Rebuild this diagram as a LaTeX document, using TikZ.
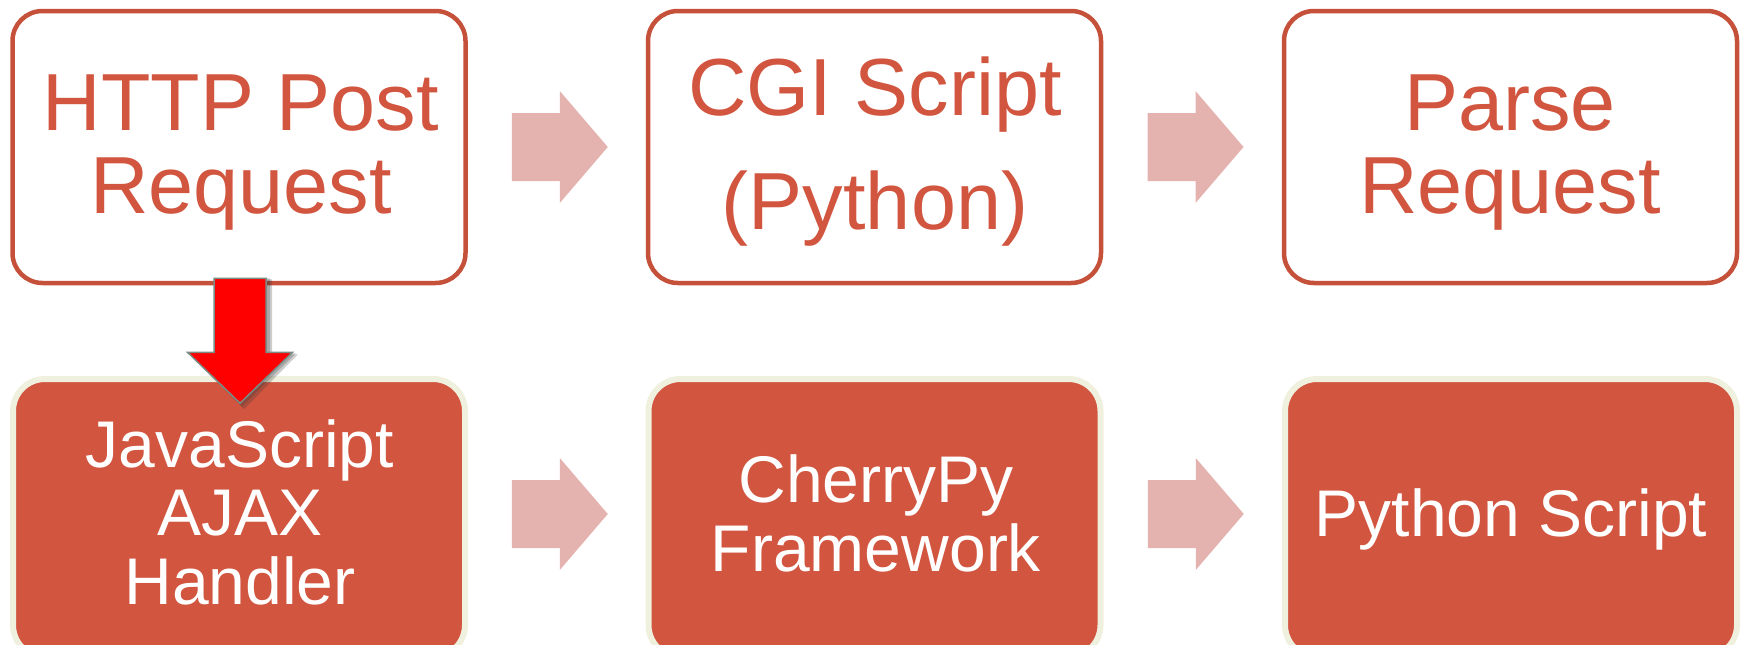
\documentclass[tikz,border=0pt]{standalone}
\usepackage{fontspec}
\setmainfont{Liberation Sans}
\usetikzlibrary{calc}
\definecolor{boxline}{RGB}{197,81,59}
\definecolor{boxtext}{RGB}{209,85,63}
\definecolor{boxfill}{RGB}{209,85,63}
\definecolor{cream}{RGB}{240,240,222}
\definecolor{pinkarrow}{RGB}{228,179,175}
\definecolor{arrowedge}{RGB}{122,140,132}
\newcommand\fatarrow[1]{\fill[flowarrow,shift={(#1)}] (-48,-34) -- (0,-34) -- (0,-56) -- (48,0) -- (0,56) -- (0,34) -- (-48,34) -- cycle;}
\begin{document}
\begin{tikzpicture}[x=1pt,y=-1pt,
 topbox/.style={draw=boxline, line width=4.5pt, rounded corners=30pt, minimum width=453pt, minimum height=272pt, inner sep=0pt, fill=white},
 botbox/.style={draw=cream, fill=boxfill, line width=6pt, rounded corners=32pt, minimum width=452pt, minimum height=278pt, inner sep=0pt},
 toptext/.style={anchor=base, align=center, text=boxtext, inner sep=0pt, font=\fontsize{81}{83}\selectfont},
 bottext/.style={anchor=base, align=center, text=white, inner sep=0pt, font=\fontsize{66}{68.5}\selectfont},
 flowarrow/.style={fill=pinkarrow},
 redarrow/.style={fill=red, draw=arrowedge, line width=1.5pt, line join=miter},
 redshadow/.style={fill=black!55!gray, opacity=0.25}
]
\useasboundingbox (0,0) rectangle (1743,645);
\clip (0,0) rectangle (1743,645);
% top row
\node[topbox] (t1) at (239,147) {};
\node[topbox] (t2) at (874.5,147) {};
\node[topbox] (t3) at (1510.5,147) {};
% bottom row
\node[botbox] (b1) at (239,518) {};
\node[botbox] (b2) at (874.5,518) {};
\node[botbox] (b3) at (1511,518) {};
% texts (anchored at the baseline of the last line)
\node[toptext] (t1txt) at (241,213) {HTTP Post\\Request};
\node[toptext, font=\fontsize{81}{114}\selectfont] (t2txt) at (875,229) {CGI Script\\(Python)};
\node[toptext] (t3txt) at (1510,213) {Parse\\Request};
\node[bottext] (b1txt) at (240,604) {JavaScript\\AJAX\\Handler};
\node[bottext] (b2txt) at (876,571) {CherryPy\\Framework};
\node[bottext] (b3txt) at (1511,536) {Python Script};
% flow arrows
\coordinate (f1) at ($($(t1.east)!0.5!(t2.west)$)+(3,0)$);
\coordinate (f2) at ($($(t2.east)!0.5!(t3.west)$)+(3,0)$);
\coordinate (f3) at ($($(b1.east)!0.5!(b2.west)$)+(3,-4)$);
\coordinate (f4) at ($($(b2.east)!0.5!(b3.west)$)+(3,-4)$);
\fatarrow{f1}
\fatarrow{f2}
\fatarrow{f3}
\fatarrow{f4}
% red arrow from t1 to b1
\coordinate (r) at ($(t1.south)+(1,0)$);
\begin{scope}[shift={(r)}]
\fill[redshadow] (-24,-6) -- (32,-6) -- (32,69) -- (58,69) -- (4,124) -- (-50,69) -- (-24,69) -- cycle;
\fill[redshadow] (-25,-7) -- (30,-7) -- (30,68) -- (56,68) -- (2,121) -- (-51,68) -- (-25,68) -- cycle;
\path[redarrow] (-26,-7) -- (26,-7) -- (26,67) -- (52.5,67) -- (0,118) -- (-52.5,67) -- (-26,67) -- cycle;
\end{scope}
\end{tikzpicture}
\end{document}
